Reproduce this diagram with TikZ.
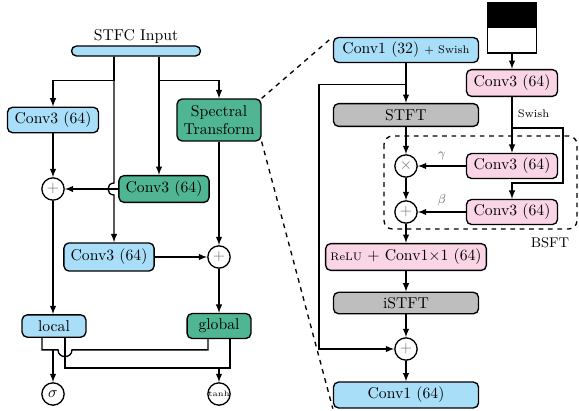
\documentclass[tikz,border=0pt]{standalone}
\usepackage{amsmath}
\usepackage{amssymb}
\usepackage{tikz}
\usetikzlibrary{arrows, calc, positioning}
\usepackage{xcolor}

\definecolor{cblue}{HTML}{A9DEF9}
\definecolor{cgreen}{HTML}{4FB592}
\definecolor{cpink}{HTML}{F9D5E5}
\definecolor{cgray}{HTML}{BEBEBE}

\begin{document}
\begin{tikzpicture}[x=0.0224cm, y=-0.0224cm, >=latex, line width=0.85pt]
  \tikzstyle{block}=[draw, rounded corners=0.114cm, inner sep=1pt, minimum height=0.57cm]
  \tikzstyle{op}=[draw, circle, fill=white, minimum size=0.5cm, inner sep=0pt, text=black!55]
  \useasboundingbox (0,0) rectangle (579,410);

  % left: STFC block
  \node[block, fill=cblue, minimum width=2.89cm, minimum height=0.224cm, rounded corners=0.112cm] (input) at (136,51) {};
  \node (inlabel) at (136,36) {STFC Input};
  \node[block, fill=cblue, minimum width=2.04cm] (conva) at (53,120) {Conv3 (64)};
  \node[block, fill=cgreen, minimum width=1.88cm, minimum height=0.94cm, align=center] (spec) at (219,120) {Spectral\\Transform};
  \node[op] (adda) at (53,189) {$+$};
  \node[block, fill=cgreen, minimum width=2.02cm, minimum height=0.6cm] (convb) at (164,189) {Conv3 (64)};
  \node[block, fill=cblue, minimum width=2.02cm, minimum height=0.63cm] (convc) at (109,257) {Conv3 (64)};
  \node[op] (addb) at (219,257) {$+$};
  \node[block, fill=cblue, minimum width=1.43cm, minimum height=0.5cm] (local) at (54,326) {local};
  \node[block, fill=cgreen, minimum width=1.43cm, minimum height=0.56cm] (global) at (219,326) {global};
  \node[op, text=black] (sig) at (53,394) {$\sigma$};
  \node[op, text=black, font=\tiny] (tanh) at (219,394) {tanh};

  \coordinate (tapl) at ($(input.south)+(-22,0)$);
  \coordinate (tapr) at ($(input.south)+(23,0)$);
  \coordinate (hop) at (adda -| tapl);
  \draw[->] (tapl) -- ++(0,24) -| (conva.north);
  \draw[->] (tapr) -- ++(0,24) -| (spec.north);
  \draw[->] (tapr) -- (tapr |- convb.north);
  \draw[->] (tapl) -- ($(hop)+(0,-6)$) .. controls ($(hop)+(-8,-6)$) and ($(hop)+(-8,6)$) .. ($(hop)+(0,6)$) -- (tapl |- convc.north);

  \draw[->] (conva) -- (adda);
  \draw[->] (convb) -- (adda);
  \draw[->] (adda) -- (adda |- local.north);
  \draw[->] (spec) -- (addb);
  \draw[->] (convc) -- (addb);
  \draw[->] (addb) -- (global);

  % gates
  \coordinate (la) at ($(local.south)+(-12,0)$);
  \coordinate (lb) at ($(local.south)+(11,0)$);
  \coordinate (ga) at ($(global.south)+(-11,0)$);
  \coordinate (gb) at ($(global.south)+(11,0)$);
  \coordinate (busa) at ($(la)+(0,12)$);
  \coordinate (busb) at ($(lb)+(0,30)$);
  \draw (la) -- (busa) -- ($(busa -| lb)+(-7,0)$) .. controls ($(busa -| lb)+(-7,9)$) and ($(busa -| lb)+(7,9)$) .. ($(busa -| lb)+(7,0)$) -| (ga);
  \draw (lb) -- (busb) -| (gb);
  \draw[->] (busa -| sig) -- (sig);
  \draw[->] (busb -| tanh) -- (tanh);

  % right: spectral transform
  \node[block, fill=cblue, minimum width=3.25cm, minimum height=0.56cm] (conv1a) at (406,50) {Conv1 (32) {\scriptsize + Swish}};
  \node[block, fill=cgray, minimum width=3.25cm, minimum height=0.51cm] (stft) at (406,115) {STFT};
  \node[op] (mul) at (406,166) {$\times$};
  \node[op] (addc) at (406,212) {$+$};
  \node[block, fill=cpink, minimum width=3.6cm, minimum height=0.6cm] (relu) at (406,257) {{\scriptsize ReLU} + Conv1$\times$1 (64)};
  \node[block, fill=cgray, minimum width=3.25cm, minimum height=0.48cm] (istft) at (406,303) {iSTFT};
  \node[op] (addd) at (406,349) {$+$};
  \node[block, fill=cblue, minimum width=3.25cm, minimum height=0.58cm] (conv1b) at (406,395) {Conv1 (64)};

  \node[draw, minimum width=1.1cm, minimum height=1.12cm, path picture={\fill[black] (path picture bounding box.north west) rectangle (path picture bounding box.east);}] (cond) at (512,28) {};
  \node[block, fill=cpink, minimum width=2.04cm, minimum height=0.6cm] (conv3p) at (512,83) {Conv3 (64)};
  \node[block, fill=cpink, minimum width=2.04cm, minimum height=0.56cm] (conv3g) at (512,166) {Conv3 (64)};
  \node[block, fill=cpink, minimum width=2.04cm, minimum height=0.56cm] (conv3b) at (512,212) {Conv3 (64)};

  \draw[->] (cond) -- (conv3p);
  \draw[->] (conv3p) -- node[right, pos=0.3, font=\scriptsize] {Swish} (conv3g);
  \coordinate (br) at ($(conv3p.south)+(0,31)$);
  \draw[->] (br) -- ++(51,0) -- ++(0,55) -| (conv3b.north);
  \draw[->] (conv3g) -- node[above, text=black!60, font=\footnotesize] {$\gamma$} (mul);
  \draw[->] (conv3b) -- node[above, text=black!60, font=\footnotesize] {$\beta$} (addc);

  \draw[->] (conv1a) -- (stft);
  \draw[->] (stft) -- (mul);
  \draw[->] (mul) -- (addc);
  \draw[->] (addc) -- (relu);
  \draw[->] (relu) -- (istft);
  \draw[->] (istft) -- (addd);
  \draw[->] (addd) -- (conv1b);
  \coordinate (sk) at ($(conv1a.south)+(0,21)$);
  \draw[->] (sk) -- ++(-87,0) |- (addd);

  \draw[dashed, rounded corners=0.19cm] (384,136) rectangle (577,229);
  \node[font=\small] (bsft) at (550,243) {BSFT};

  % zoom lines
  \draw[dashed] (spec.north east) -- (conv1a.north west);
  \draw[dashed] (spec.south east) -- (conv1b.south west);
\end{tikzpicture}
\end{document}
